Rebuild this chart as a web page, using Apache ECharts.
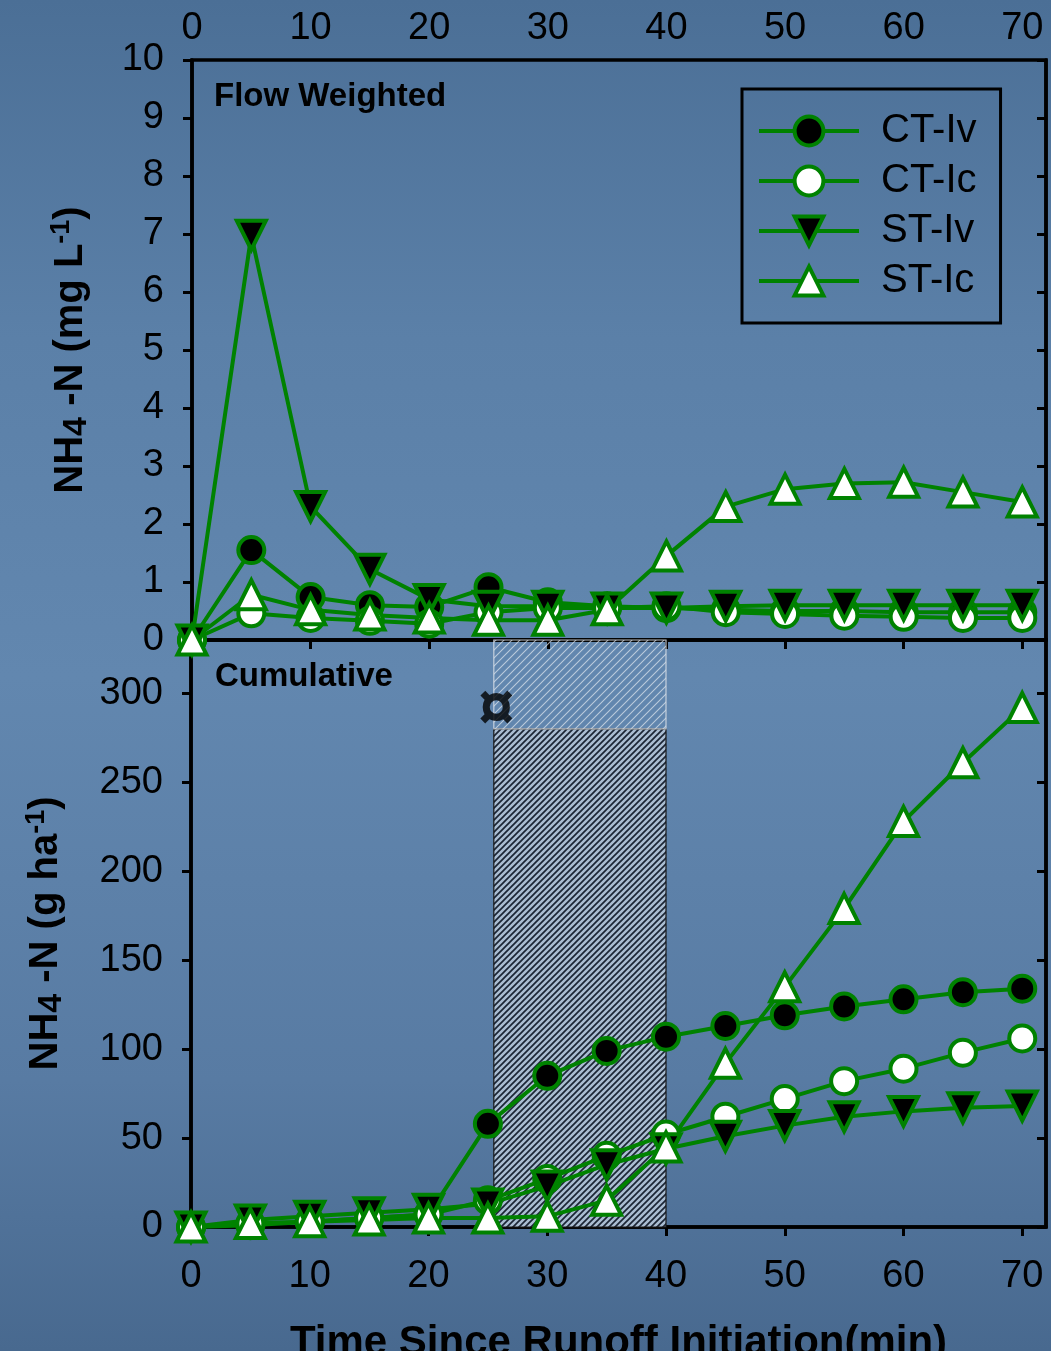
<!DOCTYPE html>
<html>
<head>
<meta charset="utf-8">
<script src="https://cdn.jsdelivr.net/npm/echarts@6/dist/echarts.min.js"></script>
<style>
  html, body { margin: 0; padding: 0; background: #557aa2; }
  #chart { width: 1051px; height: 1351px; }
</style>
</head>
<body>
<div id="chart"></div>
<script>
// Sampling times (minutes since runoff began)
const timeMin = [0, 5, 10, 15, 20, 25, 30, 35, 40, 45, 50, 55, 60, 65, 70];

// Flow-weighted NH4-N concentration (mg L-1)
const flowCTIv = [0, 1.55, 0.74, 0.60, 0.57, 0.91, 0.65, 0.58, 0.55, 0.52, 0.50, 0.50, 0.48, 0.48, 0.48];
const flowCTIc = [0, 0.46, 0.38, 0.33, 0.28, 0.48, 0.55, 0.55, 0.58, 0.48, 0.45, 0.42, 0.40, 0.38, 0.38];
const flowSTIv = [0, 6.98, 2.30, 1.22, 0.70, 0.58, 0.58, 0.55, 0.55, 0.58, 0.60, 0.60, 0.60, 0.60, 0.60];
const flowSTIc = [0, 0.78, 0.52, 0.43, 0.38, 0.34, 0.34, 0.52, 1.45, 2.30, 2.60, 2.70, 2.72, 2.55, 2.38];

// Cumulative NH4-N load (g ha-1)
const cumCTIv = [0, 1, 3, 5, 7, 58, 85, 99, 107, 113, 119, 124, 128, 132, 134];
const cumCTIc = [0, 2, 3, 5, 7, 15, 27, 40, 52, 62, 72, 82, 89, 98, 106];
const cumSTIv = [0, 4, 6, 8, 10, 13, 23, 35, 44, 51, 57, 62, 65, 67, 68];
const cumSTIc = [0, 2, 3, 4, 5, 5, 6, 15, 45, 92, 135, 179, 228, 261, 292];

// Shaded time window: [x start, x end, y low, y high]
const shadeBands = [[25.5, 40, 0, 280], [25.5, 40, 280, 330]];
// Note marker position above the shaded window
const notePoint = [[25.7, 290]];

const seriesNames = ['CT-Iv', 'CT-Ic', 'ST-Iv', 'ST-Ic'];

const FONT = '"Liberation Sans", Arial, sans-serif';
const GREEN = '#008200';
const BLACK = '#000';

function hatch(size, bg, fg, lw) {
  const c = document.createElement('canvas');
  c.width = size; c.height = size;
  const g = c.getContext('2d');
  if (bg) { g.fillStyle = bg; g.fillRect(0, 0, size, size); }
  g.strokeStyle = fg; g.lineWidth = lw; g.lineCap = 'square';
  g.beginPath();
  g.moveTo(0, size); g.lineTo(size, 0);
  g.moveTo(-size / 2, size / 2); g.lineTo(size / 2, -size / 2);
  g.moveTo(size / 2, size * 1.5); g.lineTo(size * 1.5, size / 2);
  g.stroke();
  return c;
}
const darkFill = { image: hatch(6, '#aabdd2', '#1b2535', 1.7), repeat: 'repeat' };
const lightFill = { image: hatch(8, null, 'rgba(225,232,240,0.7)', 1.1), repeat: 'repeat' };

function lineSeries(name, values, xi, yi, symbol, fill, rotate) {
  return {
    name, type: 'line', xAxisIndex: xi, yAxisIndex: yi,
    data: timeMin.map((t, i) => [t, values[i]]),
    symbol, symbolSize: symbol === 'circle' ? 26 : 29, symbolRotate: rotate || 0,
    showAllSymbol: true, clip: false, z: 3,
    lineStyle: { color: GREEN, width: 4 },
    itemStyle: { color: fill, borderColor: GREEN, borderWidth: 4 },
    emphasis: { disabled: true }
  };
}

const tickLabel = { color: BLACK, fontSize: 38, fontFamily: FONT };
const axisLine = { show: true, lineStyle: { color: BLACK, width: 3.5 } };

function xAxis(grid, pos, inside, labels, extra) {
  return Object.assign({
    type: 'value', gridIndex: grid, position: pos, min: 0, max: 72, interval: 10,
    axisLine, splitLine: { show: false },
    axisTick: { show: true, inside, length: 9, lineStyle: { color: BLACK, width: 3 } },
    axisLabel: Object.assign({ show: labels, showMaxLabel: false }, tickLabel, { margin: pos === 'top' ? 12 : 31 })
  }, extra || {});
}
function yAxis(grid, pos, max, interval, labels, extra) {
  return Object.assign({
    type: 'value', gridIndex: grid, position: pos, min: 0, max, interval,
    axisLine, splitLine: { show: false },
    axisTick: { show: true, inside: pos === 'right', length: 9, lineStyle: { color: BLACK, width: 3 } },
    axisLabel: Object.assign({ show: labels, showMaxLabel: max === 10 }, tickLabel, { margin: 28 })
  }, extra || {});
}

const nameRich = {
  b: { fontSize: 40, fontWeight: 'bold', fontFamily: FONT, color: BLACK, lineHeight: 46 },
  sub: { fontSize: 34, fontWeight: 'bold', fontFamily: FONT, color: BLACK, lineHeight: 36, verticalAlign: 'bottom' },
  sup: { fontSize: 27, fontWeight: 'bold', fontFamily: FONT, color: BLACK, lineHeight: 28, verticalAlign: 'top' }
};

const gridBase = {
  show: true, borderColor: BLACK, borderWidth: 3.5, backgroundColor: 'transparent',
  containLabel: false, outerBoundsMode: 'none'
};

const option = {
  animation: false,
  backgroundColor: new echarts.graphic.LinearGradient(0, 0, 0, 1, [
    { offset: 0, color: '#4b6f96' },
    { offset: 0.25, color: '#5b80a8' },
    { offset: 0.5, color: '#6287af' },
    { offset: 0.8, color: '#587ba3' },
    { offset: 1, color: '#48698f' }
  ]),
  title: [
    { text: 'Flow Weighted', left: 214, top: 80, padding: 0,
      textStyle: { fontSize: 33, fontWeight: 'bold', color: BLACK, fontFamily: FONT } },
    { text: 'Cumulative', left: 215, top: 660, padding: 0,
      textStyle: { fontSize: 33, fontWeight: 'bold', color: BLACK, fontFamily: FONT } }
  ],
  legend: {
    orient: 'vertical', left: 742, top: 89,
    data: seriesNames, selectedMode: false,
    itemWidth: 100, itemHeight: 36, itemGap: 10,
    padding: [22, 24, 22, 15],
    borderColor: BLACK, borderWidth: 3,
    lineStyle: { width: 4, color: GREEN },
    itemStyle: { borderWidth: 4, borderColor: GREEN },
    textStyle: { fontSize: 40, lineHeight: 36, color: BLACK, fontFamily: FONT, padding: [0, 0, 0, 17] }
  },
  grid: [
    Object.assign({ left: 192, right: 5, top: 60, height: 580 }, gridBase),
    Object.assign({ left: 191, right: 5, top: 640, height: 587 }, gridBase)
  ],
  xAxis: [
    xAxis(0, 'top', true, true),
    xAxis(1, 'bottom', false, true, {
      name: 'Time Since Runoff Initiation(min)', nameLocation: 'middle', nameGap: 95,
      nameTextStyle: { fontSize: 42, fontWeight: 'bold', color: BLACK, fontFamily: FONT }
    })
  ],
  yAxis: [
    yAxis(0, 'left', 10, 1, true, {
      name: '{b|NH}{sub|4}{b| -N (mg L}{sup|-1}{b|)}', nameLocation: 'middle', nameRotate: 90, nameGap: 98,
      nameTextStyle: { rich: nameRich }
    }),
    yAxis(0, 'right', 10, 1, false),
    yAxis(1, 'left', 330, 50, true, {
      name: '{b|NH}{sub|4}{b| -N (g ha}{sup|-1}{b|)}', nameLocation: 'middle', nameRotate: 90, nameGap: 122,
      nameTextStyle: { rich: nameRich }
    }),
    yAxis(1, 'right', 330, 50, false)
  ],
  series: [
    {
      name: 'window', type: 'custom', xAxisIndex: 1, yAxisIndex: 2, z: 1,
      data: shadeBands, encode: { x: [0, 1], y: [2, 3] },
      renderItem(params, api) {
        const lo = api.coord([api.value(0), api.value(2)]);
        const hi = api.coord([api.value(1), api.value(3)]);
        const dark = params.dataIndex === 0;
        return {
          type: 'rect',
          shape: { x: lo[0], y: hi[1], width: hi[0] - lo[0], height: lo[1] - hi[1] },
          style: {
            fill: dark ? darkFill : lightFill,
            stroke: dark ? '#1a1a1a' : 'rgba(215,222,230,0.85)',
            lineWidth: 1.2
          }
        };
      }
    },
    {
      name: 'note', type: 'scatter', xAxisIndex: 1, yAxisIndex: 2, z: 4,
      data: notePoint, symbol: 'circle', symbolSize: 1,
      itemStyle: { color: 'rgba(0,0,0,0)' },
      label: { show: true, position: 'inside', formatter: '\u00A4', fontSize: 64, fontWeight: 'bold', color: BLACK, fontFamily: FONT },
      emphasis: { disabled: true }
    },
    lineSeries('CT-Iv', flowCTIv, 0, 0, 'circle', BLACK),
    lineSeries('CT-Ic', flowCTIc, 0, 0, 'circle', '#fff'),
    lineSeries('ST-Iv', flowSTIv, 0, 0, 'triangle', BLACK, 180),
    lineSeries('ST-Ic', flowSTIc, 0, 0, 'triangle', '#fff'),
    lineSeries('CT-Iv', cumCTIv, 1, 2, 'circle', BLACK),
    lineSeries('CT-Ic', cumCTIc, 1, 2, 'circle', '#fff'),
    lineSeries('ST-Iv', cumSTIv, 1, 2, 'triangle', BLACK, 180),
    lineSeries('ST-Ic', cumSTIc, 1, 2, 'triangle', '#fff')
  ]
};

const chart = echarts.init(document.getElementById('chart'));
chart.setOption(option);
</script>
</body>
</html>
